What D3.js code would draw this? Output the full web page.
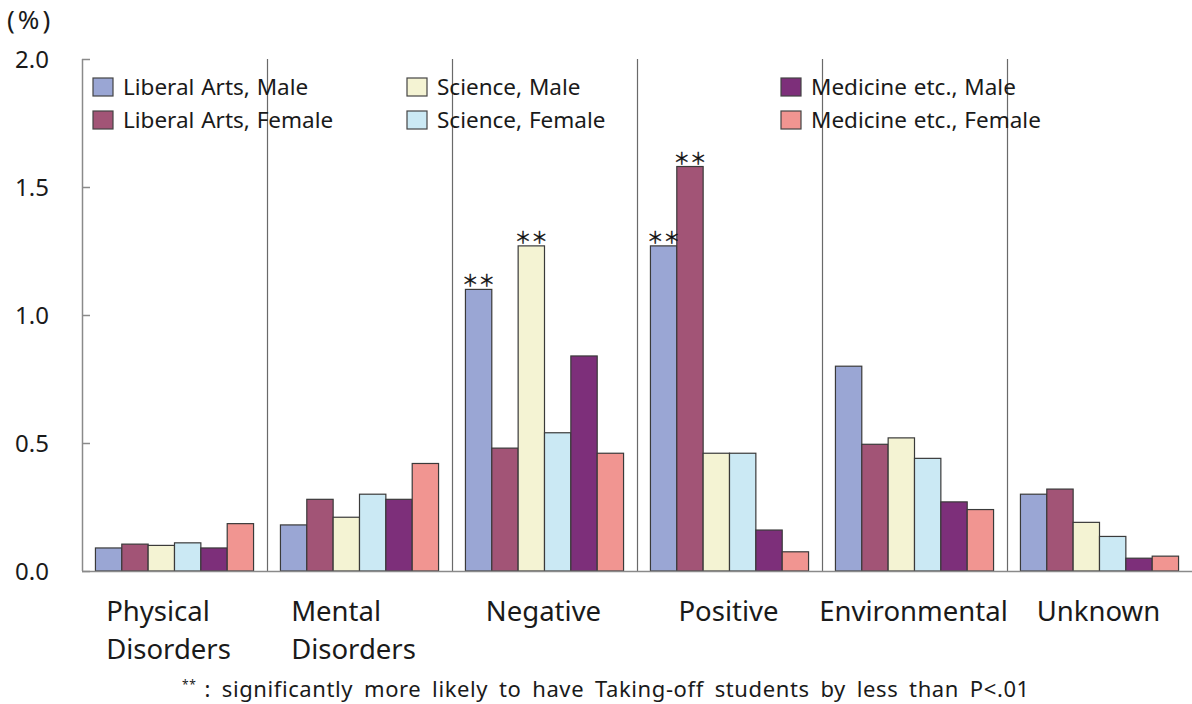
<!DOCTYPE html>
<html>
<head>
<meta charset="utf-8">
<script src="https://cdn.jsdelivr.net/npm/d3@7"></script>
<style>
  html, body { margin: 0; padding: 0; background: #fff; }
  svg { display: block; }
  text { font-family: "Noto Sans", "DejaVu Sans", sans-serif; fill: #1a1a1a; }
</style>
</head>
<body>
<svg id="chart" width="1192" height="704"></svg>
<script>
// Reasons for taking time off, by faculty group and sex (%)
const categories = ["Physical Disorders", "Mental Disorders", "Negative", "Positive", "Environmental", "Unknown"];
const categoryLines = [["Physical", "Disorders"], ["Mental", "Disorders"], ["Negative"], ["Positive"], ["Environmental"], ["Unknown"]];

const seriesNames = [
  "Liberal Arts, Male", "Liberal Arts, Female",
  "Science, Male", "Science, Female",
  "Medicine etc., Male", "Medicine etc., Female"
];

const liberalArtsMale     = [0.09, 0.18, 1.10, 1.27, 0.80, 0.30];
const liberalArtsFemale   = [0.105, 0.28, 0.48, 1.58, 0.495, 0.32];
const scienceMale         = [0.10, 0.21, 1.27, 0.46, 0.52, 0.19];
const scienceFemale       = [0.11, 0.30, 0.54, 0.46, 0.44, 0.135];
const medicineMale        = [0.09, 0.28, 0.84, 0.16, 0.27, 0.05];
const medicineFemale      = [0.185, 0.42, 0.46, 0.075, 0.24, 0.058];

const seriesValues = [liberalArtsMale, liberalArtsFemale, scienceMale, scienceFemale, medicineMale, medicineFemale];
const seriesColors = ["#9aa6d4", "#a25476", "#f4f3d3", "#cbe9f4", "#7d2f7a", "#f19591"];

// ** marks: [category, series]
const significant = [
  ["Negative", "Liberal Arts, Male"],
  ["Negative", "Science, Male"],
  ["Positive", "Liberal Arts, Male"],
  ["Positive", "Liberal Arts, Female"]
];

const yTicks = [0, 0.5, 1.0, 1.5, 2.0];
const unitLabel = "(%)";
const footnote = ": significantly more likely to have Taking-off students by less than P<.01";

// Layout
const plot = { left: 82, right: 1192, top: 59, bottom: 571 };
const svg = d3.select("#chart");

const y = d3.scaleLinear().domain([0, 2]).range([plot.bottom, plot.top]);
const x0 = d3.scaleBand().domain(categories).range([plot.left, plot.right]).paddingInner(0).paddingOuter(0);
const x1 = d3.scaleBand().domain(seriesNames).range([0, x0.bandwidth()]).paddingInner(0).paddingOuter(0.51);
const color = d3.scaleOrdinal().domain(seriesNames).range(seriesColors);

const rows = [];
categories.forEach((c, ci) => {
  seriesNames.forEach((s, si) => rows.push({ category: c, series: s, value: seriesValues[si][ci] }));
});

// Category dividers
svg.append("g")
  .selectAll("line")
  .data(categories.slice(1))
  .join("line")
  .attr("x1", d => x0(d) + 0.5).attr("x2", d => x0(d) + 0.5)
  .attr("y1", plot.top).attr("y2", plot.bottom)
  .attr("stroke", "#6a6a6a").attr("stroke-width", 1.2);

// Bars
svg.append("g")
  .selectAll("rect")
  .data(rows)
  .join("rect")
  .attr("x", d => x0(d.category) + x1(d.series))
  .attr("y", d => y(d.value))
  .attr("width", x1.bandwidth())
  .attr("height", d => y(0) - y(d.value))
  .attr("fill", d => color(d.series))
  .attr("stroke", "#3a3a3a")
  .attr("stroke-width", 1.2);

// Significance marks
svg.append("g")
  .selectAll("text")
  .data(significant)
  .join("text")
  .attr("x", d => x0(d[0]) + x1(d[1]) + x1.bandwidth() / 2)
  .attr("y", d => y(rows.find(r => r.category === d[0] && r.series === d[1]).value) - 2)
  .attr("text-anchor", "middle")
  .style("font-family", "'Noto Sans CJK JP', sans-serif")
  .style("font-size", "16.5px")
  .style("fill", "#111")
  .style("stroke", "#111")
  .style("stroke-width", "0.4px")
  .text("＊＊");

// Y axis with inward ticks
const yAxis = svg.append("g").attr("transform", `translate(${plot.left},0)`)
  .call(d3.axisRight(y).tickValues(yTicks).tickSize(8).tickFormat(""));
yAxis.select(".domain").attr("stroke", "#8a8a8a").attr("stroke-width", 1.5)
  .attr("d", `M0.5,${plot.top}V${plot.bottom}`);
yAxis.selectAll(".tick line").attr("stroke", "#8a8a8a").attr("stroke-width", 1.5);

svg.append("g")
  .selectAll("text")
  .data(yTicks)
  .join("text")
  .attr("x", 49)
  .attr("y", d => y(d))
  .attr("dy", "0.36em")
  .attr("text-anchor", "end")
  .style("font-size", "24px")
  .text(d => d3.format(".1f")(d));

// Baseline
svg.append("line")
  .attr("x1", plot.left).attr("x2", plot.right)
  .attr("y1", y(0) + 0.5).attr("y2", y(0) + 0.5)
  .attr("stroke", "#8a8a8a").attr("stroke-width", 1.5);

// Unit label
svg.append("text")
  .attr("x", 7).attr("y", 29)
  .style("font-size", "26px")
  .style("letter-spacing", "3px")
  .text(unitLabel);

// Category labels: multi-line blocks left-aligned, block centred in band
const catG = svg.append("g");
categories.forEach((c, i) => {
  const t = catG.append("text").style("font-size", "27.5px");
  categoryLines[i].forEach((line, li) => {
    t.append("tspan").attr("x", 0).attr("y", 621 + li * 38).text(line);
  });
  const w = t.node().getBBox().width;
  const shift = categoryLines[i].length > 1 ? -6 : -1;
  const cx = x0(c) + x0.bandwidth() / 2 + shift;
  t.attr("transform", `translate(${cx - w / 2},0)`);
});

// Legend
const legendPos = [
  [93, 78], [93, 111],
  [407, 78], [407, 111],
  [781, 78], [781, 111]
];
const legend = svg.append("g")
  .selectAll("g")
  .data(seriesNames)
  .join("g")
  .attr("transform", (d, i) => `translate(${legendPos[i][0]},${legendPos[i][1]})`);
legend.append("rect")
  .attr("width", 20).attr("height", 18)
  .attr("fill", d => color(d))
  .attr("stroke", "#444").attr("stroke-width", 1.2);
legend.append("text")
  .attr("x", 30).attr("y", 17)
  .style("font-size", "22.5px")
  .style("word-spacing", "1px")
  .text(d => d);

// Footnote
const fn = svg.append("text").attr("x", 182).attr("y", 697)
  .style("font-size", "22px").style("letter-spacing", "0.6px").style("word-spacing", "4.5px");
fn.append("tspan").style("font-size", "12px").attr("dy", -8).text("**");
fn.append("tspan").attr("dy", 8).attr("dx", 8).text(footnote);
</script>
</body>
</html>
